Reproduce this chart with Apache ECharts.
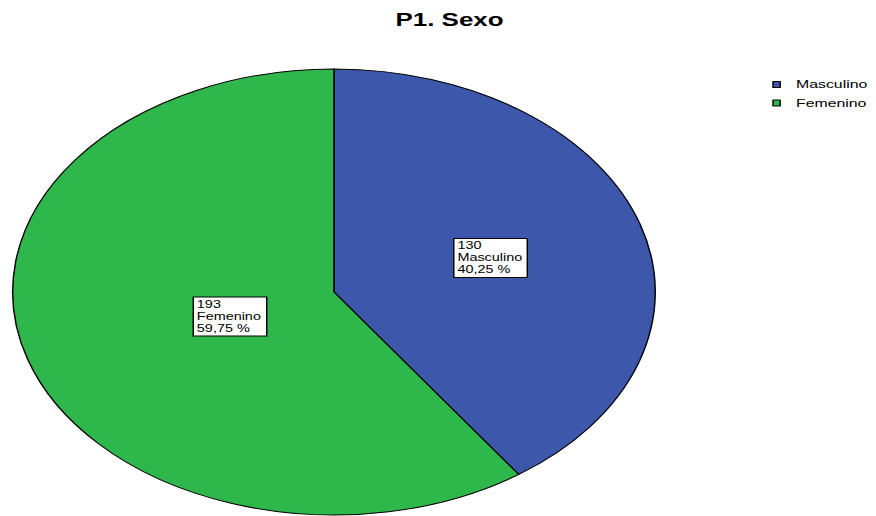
<!DOCTYPE html>
<html>
<head>
<meta charset="utf-8">
<script src="https://cdn.jsdelivr.net/npm/echarts@6/dist/echarts.min.js"></script>
<style>
  html, body { margin: 0; padding: 0; background: #fff; overflow: hidden; }
  /* the reference image is stretched horizontally, so draw narrow and stretch */
  #chart { width: 608px; height: 516px; transform: scaleX(1.4408); transform-origin: 0 0; }
</style>
</head>
<body>
<div id="chart"></div>
<script>
  const categories = ['Masculino', 'Femenino'];
  const counts = [130, 193];
  const colors = ['#3d57ab', '#2eb84b'];

  const total = counts.reduce((a, b) => a + b, 0);
  // label offsets (SPSS puts the boxes at slice centroids)
  const labelOffsets = [[-0.5, 0.5], [37, -10]];

  const chart = echarts.init(document.getElementById('chart'), null, {renderer: 'svg'});

  const option = {
    animation: false,
    title: {
      text: 'P1. Sexo',
      left: 312,
      top: 11,
      padding: 0,
      textAlign: 'center',
      textStyle: {fontFamily: 'Liberation Sans, Arial', fontSize: 18, fontWeight: 'bold', color: '#000'}
    },
    legend: {
      orient: 'vertical',
      left: 536,
      top: 78,
      padding: 0,
      icon: 'rect',
      itemWidth: 5,
      itemHeight: 6,
      itemGap: 5.5,
      itemStyle: {borderColor: '#000', borderWidth: 1},
      textStyle: {fontFamily: 'Liberation Sans, Arial', fontSize: 11, lineHeight: 13, color: '#000', padding: [0, 0, 0, 6]},
      data: categories
    },
    series: [{
      type: 'pie',
      center: [231.8, 292],
      radius: [0, 223],
      startAngle: 90,
      clockwise: true,
      avoidLabelOverlap: false,
      itemStyle: {borderColor: '#000', borderWidth: 1},
      emphasis: {disabled: true},
      label: {
        show: true,
        position: 'inside',
        color: '#000',
        backgroundColor: '#fff',
        borderColor: '#000',
        borderWidth: 1,
        padding: [1, 3, 1, 2],
        rich: {
          t: {fontFamily: 'Liberation Sans, Arial', fontSize: 10, lineHeight: 12, width: 45, align: 'left', color: '#000'}
        },
        formatter: function (p) {
          const pct = (p.value / total * 100).toFixed(2).replace('.', ',');
          return '{t|' + p.value + '}\n{t|' + p.name + '}\n{t|' + pct + ' %}';
        }
      },
      labelLine: {show: false},
      data: categories.map((name, i) => ({
        name: name,
        value: counts[i],
        itemStyle: {color: colors[i]},
        label: {offset: labelOffsets[i]}
      }))
    }]
  };

  chart.setOption(option);
</script>
</body>
</html>
